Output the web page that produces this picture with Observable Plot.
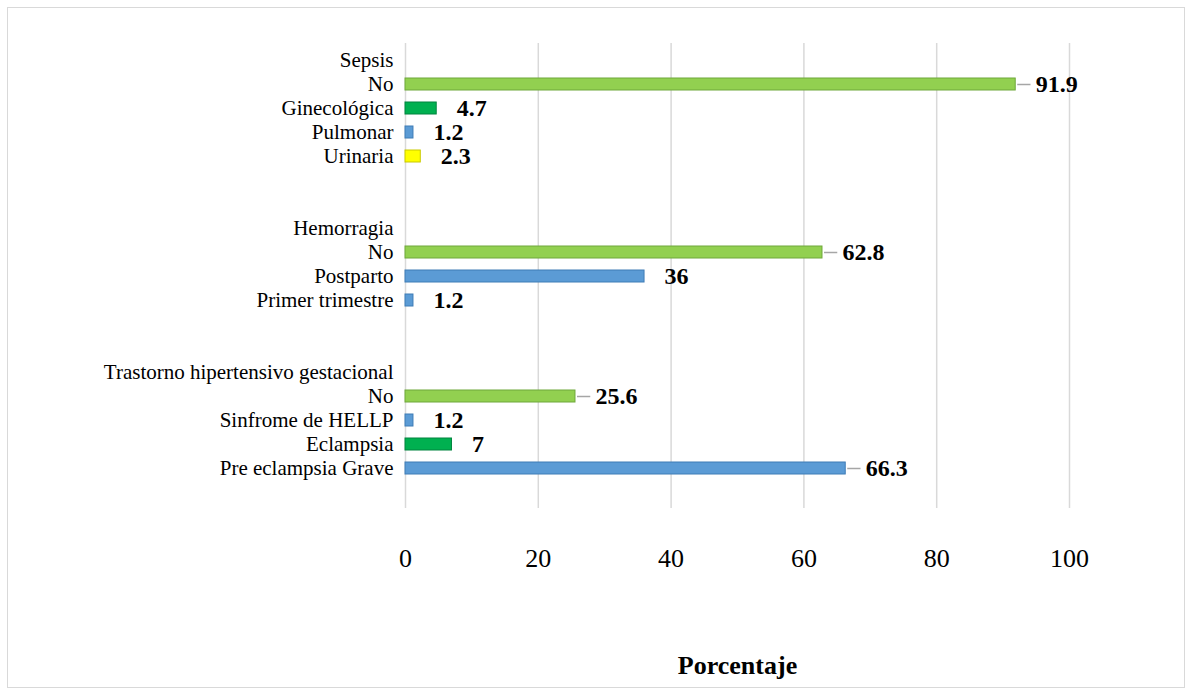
<!DOCTYPE html>
<html>
<head>
<meta charset="utf-8">
<script src="https://cdn.jsdelivr.net/npm/d3@7"></script>
<script src="https://cdn.jsdelivr.net/npm/@observablehq/plot@0.6"></script>
<style>
  html, body { margin: 0; padding: 0; background: #fff; }
  #frame { position: absolute; left: 7px; top: 7px; width: 1176px; height: 679px;
           border: 1px solid #d9d9d9; background: #fff; }
  #frame svg { display: block; }
</style>
</head>
<body>
<div id="frame"></div>
<script>
// Row labels (top to bottom), including group headers and blank spacer rows
const rowLabels = [
  "Sepsis", "No", "Ginecológica", "Pulmonar", "Urinaria", "", "",
  "Hemorragia", "No", "Postparto", "Primer trimestre", "", "",
  "Trastorno hipertensivo gestacional", "No", "Sinfrome de HELLP", "Eclampsia", "Pre eclampsia Grave"
];
// Percentages (null = header / spacer row)
const values = [
  null, 91.9, 4.7, 1.2, 2.3, null, null,
  null, 62.8, 36, 1.2, null, null,
  null, 25.6, 1.2, 7, 66.3
];
// Series each bar belongs to (drives colour)
const series = [
  null, "No", "Ginecológica", "Pulmonar", "Urinaria", null, null,
  null, "No", "Postparto", "Primer trimestre", null, null,
  null, "No", "Sinfrome de HELLP", "Eclampsia", "Pre eclampsia Grave"
];
const xTicks = [0, 20, 40, 60, 80, 100];

const rows = rowLabels.map((label, i) => ({i, label, value: values[i], series: series[i]}));
const bars = rows.filter(d => d.value != null);
const leaderBars = bars.filter(d => d.value >= 20 && d.value !== 36);

const seriesDomain = ["No", "Ginecológica", "Eclampsia", "Pulmonar", "Postparto", "Primer trimestre",
                      "Sinfrome de HELLP", "Pre eclampsia Grave", "Urinaria"];
const seriesRange  = ["#92d050", "#00b050", "#00b050", "#5b9bd5", "#5b9bd5", "#5b9bd5",
                      "#5b9bd5", "#5b9bd5", "#ffff00"];
const strokeRange  = ["#6fa83a", "#00843f", "#00843f", "#3f7cb6", "#3f7cb6", "#3f7cb6",
                      "#3f7cb6", "#3f7cb6", "#c9c900"];
const strokeOf = new Map(seriesDomain.map((s, k) => [s, strokeRange[k]]));

const W = 1176, H = 679;
const chart = Plot.plot({
  width: W,
  height: H,
  marginLeft: 397,
  marginRight: 115,
  marginTop: 35,
  marginBottom: 179,
  style: {fontFamily: "'Liberation Serif', 'Times New Roman', serif", color: "#000", background: "#fff"},
  x: {type: "linear", domain: [0, 100], ticks: xTicks},
  y: {domain: rows.map(d => d.i), padding: 0, insetBottom: 23},
  color: {domain: seriesDomain, range: seriesRange},
  marks: [
    Plot.gridX(xTicks, {stroke: "#d9d9d9", strokeOpacity: 1, strokeWidth: 1.5}),
    Plot.barX(bars, {
      x: "value", y: "i", fill: "series",
      stroke: d => strokeOf.get(d.series), strokeWidth: 1,
      insetTop: 6, insetBottom: 6
    }),
    Plot.ruleY(leaderBars, {y: "i", x1: "value", x2: d => d.value + 2, dx: 2,
      stroke: "#a6a6a6", strokeWidth: 1.5}),
    Plot.text(bars, {
      x: "value", y: "i", text: d => String(d.value),
      dx: 20, textAnchor: "start", fontSize: 24, fontWeight: "bold", fill: "#000"
    }),
    Plot.axisY({
      tickSize: 0, tickPadding: 12, fontSize: 21,
      tickFormat: i => rowLabels[i], label: null
    }),
    Plot.axisX(xTicks, {
      anchor: "bottom", tickSize: 0, tickPadding: 40, fontSize: 26,
      label: "Porcentaje", labelAnchor: "center", labelArrow: "none", labelOffset: 165
    })
  ]
});
document.getElementById("frame").appendChild(chart);
// style the axis title
chart.querySelectorAll("text").forEach(t => {
  if (t.textContent === "Porcentaje") { t.setAttribute("font-weight", "bold"); t.setAttribute("font-size", "26"); }
});
</script>
</body>
</html>
